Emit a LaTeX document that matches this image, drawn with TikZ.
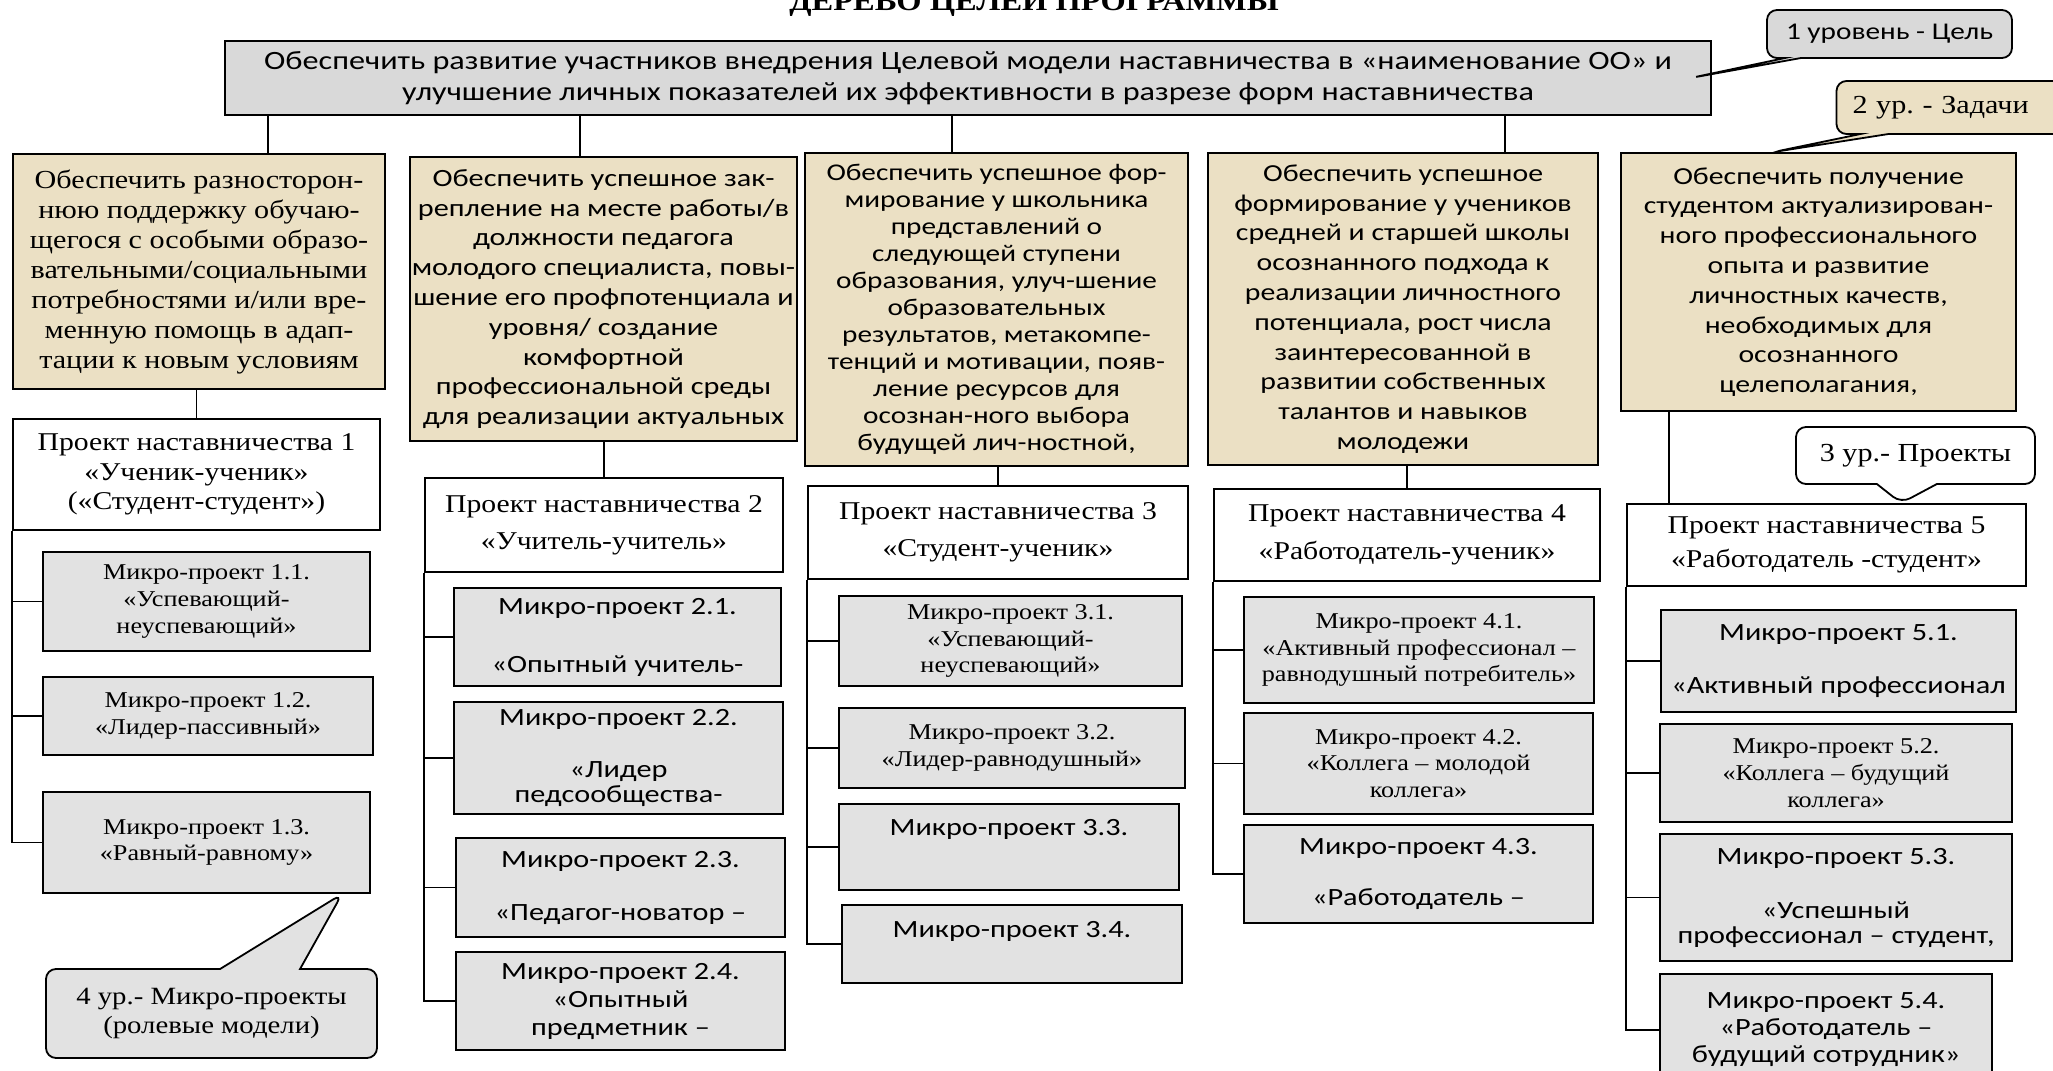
\documentclass[tikz,border=0pt]{standalone}
\usepackage{fontspec}
\setmainfont[FakeStretch=1.16]{Liberation Serif}
\newfontfamily\calfont[FakeStretch=1.22]{Carlito}
\usetikzlibrary{shapes.callouts}

\definecolor{parchment}{RGB}{235,224,196}
\definecolor{goalgray}{RGB}{217,217,217}
\definecolor{microgray}{RGB}{226,226,226}

\newcommand{\tnr}[2]{\fontsize{#1}{#2}\selectfont}
\newcommand{\cfs}[2]{\calfont\fontsize{#1}{#2}\selectfont}
\frenchspacing

\tikzset{
  box/.style={draw, line width=0.9pt, align=center, inner sep=1pt},
  task/.style={box, fill=parchment},
  project/.style={box, fill=white},
  micro/.style={box, fill=microgray},
  note/.style={rectangle callout, draw, line width=0.9pt, rounded corners=5pt,
    align=center, inner sep=1pt}
}

\begin{document}
\begin{tikzpicture}[x=1pt, y=-1pt]
    \useasboundingbox (0,0) rectangle (1026.5,535.5);

    % title (cut at the top edge)
    \node [anchor=base, font=\bfseries\tnr{14}{16}] (title) at (517,5) {ДЕРЕВО ЦЕЛЕЙ ПРОГРАММЫ};

    % level 1 - goal
    \node [box, fill=goalgray, line width=1.4pt, minimum width=743pt, minimum height=37pt,
        font=\cfs{13.2}{15.5}] (goal) at (484,39)
        {Обеспечить развитие участников внедрения Целевой модели наставничества в «наименование ОО» и\\
         улучшение личных показателей их эффективности в разрезе форм наставничества};

    % level 2 - tasks
    \node [task, minimum width=186pt, minimum height=117.5pt, font=\tnr{13}{15}] (T1) at (99.5,135.75)
        {Обеспечить разносторон-\\нюю поддержку обучаю-\\щегося с особыми образо-\\вательными/социальными\\
         потребностями и/или вре-\\менную помощь в адап-\\тации к новым условиям};
    \node [task, minimum width=190.5pt, minimum height=142pt, font=\cfs{12.4}{14.9}] (T2) at (301.75,149.5)
        {Обеспечить успешное зак-\\репление на месте работы/в\\должности педагога\\молодого специалиста, повы-\\
         шение его профпотенциала и\\уровня/ создание\\комфортной\\профессиональной среды\\для реализации актуальных};
    \node [task, minimum width=191.5pt, minimum height=156.5pt, font=\cfs{12}{13.5}] (T3) at (498.25,154.75)
        {Обеспечить успешное фор-\\мирование у школьника\\представлений о\\следующей ступени\\образования, улуч-шение\\
         образовательных\\результатов, метакомпе-\\тенций и мотивации, появ-\\ление ресурсов для\\
         осознан-ного выбора\\будущей лич-ностной,};
    \node [task, minimum width=195pt, minimum height=156pt, font=\cfs{12.2}{14.9}] (T4) at (701.5,154.5)
        {Обеспечить успешное\\формирование у учеников\\средней и старшей школы\\осознанного подхода к\\
         реализации личностного\\потенциала, рост числа\\заинтересованной в\\развитии собственных\\
         талантов и навыков\\молодежи};
    \node [task, minimum width=197.5pt, minimum height=129pt, font=\cfs{12.2}{14.9}] (T5) at (909.25,141)
        {Обеспечить получение\\студентом актуализирован-\\ного профессионального\\опыта и развитие\\
         личностных качеств,\\необходимых для\\осознанного\\целеполагания,};

    % level 3 - projects
    \node [project, minimum width=183.5pt, minimum height=55.5pt, font=\tnr{12.8}{14.7}] (P1) at (98.25,237.25)
        {Проект наставничества 1\\«Ученик-ученик»\\(«Студент-студент»)};
    \node [project, minimum width=179pt, minimum height=47pt, font=\tnr{12.8}{14.7}] (P2) at (302,262.5)
        {Проект наставничества 2\\[4pt]«Учитель-учитель»};
    \node [project, minimum width=190pt, minimum height=46.5pt, font=\tnr{12.8}{14.7}] (P3) at (499,266.25)
        {Проект наставничества 3\\[4pt]«Студент-ученик»};
    \node [project, minimum width=193pt, minimum height=46pt, font=\tnr{12.8}{14.7}] (P4) at (703.5,267.5)
        {Проект наставничества 4\\[4pt]«Работодатель-ученик»};
    \node [project, minimum width=199.5pt, minimum height=41pt, font=\tnr{12.8}{14.7}] (P5) at (913.25,272.5)
        {Проект наставничества 5\\[2pt]«Работодатель -студент»};

    % level 4 - micro-projects
    \node [micro, minimum width=163.5pt, minimum height=49.5pt, font=\tnr{11.3}{13.4}] (M11) at (103.25,300.75)
        {Микро-проект 1.1.\\«Успевающий-\\неуспевающий»};
    \node [micro, minimum width=165pt, minimum height=39pt, font=\tnr{11.3}{13.4}] (M12) at (104,358)
        {Микро-проект 1.2.\\«Лидер-пассивный»};
    \node [micro, minimum width=163.5pt, minimum height=50.5pt, font=\tnr{11.3}{13.4}] (M13) at (103.25,421.25)
        {Микро-проект 1.3.\\«Равный-равному»};

    \node [micro, minimum width=163.5pt, minimum height=49pt, font=\cfs{12.4}{12.5}] (M21) at (308.75,318.5)
        {Микро-проект 2.1.\\[16.5pt]«Опытный учитель-};
    \node [micro, minimum width=164.5pt, minimum height=56pt, font=\cfs{12.4}{12.5}] (M22) at (309.25,379)
        {Микро-проект 2.2.\\[13.5pt]«Лидер\\педсообщества-};
    \node [micro, minimum width=164.5pt, minimum height=49.5pt, font=\cfs{12.4}{12.5}] (M23) at (310.25,443.75)
        {Микро-проект 2.3.\\[14pt]«Педагог-новатор –};
    \node [micro, minimum width=164.5pt, minimum height=49pt, font=\cfs{12.4}{14}] (M24) at (310.25,500.5)
        {Микро-проект 2.4.\\«Опытный\\предметник –};

    \node [micro, minimum width=171.5pt, minimum height=45pt, font=\tnr{11.3}{13.4}] (M31) at (505.25,320.5)
        {Микро-проект 3.1.\\«Успевающий-\\неуспевающий»};
    \node [micro, minimum width=173pt, minimum height=40pt, font=\tnr{11.3}{13.4}] (M32) at (506,374)
        {Микро-проект 3.2.\\«Лидер-равнодушный»};
    \node [micro, minimum width=170pt, minimum height=43pt, text depth=20pt, font=\cfs{12.4}{12.5}] (M33) at (504.5,423.5)
        {Микро-проект 3.3.};
    \node [micro, minimum width=170pt, minimum height=39pt, text depth=15pt, font=\cfs{12.4}{12.5}] (M34) at (506,472)
        {Микро-проект 3.4.};

    \node [micro, minimum width=175pt, minimum height=53pt, font=\tnr{11.3}{13.4}] (M41) at (709.5,325)
        {Микро-проект 4.1.\\«Активный профессионал –\\равнодушный потребитель»};
    \node [micro, minimum width=174.5pt, minimum height=50.5pt, font=\tnr{11.3}{13.4}] (M42) at (709.25,381.75)
        {Микро-проект 4.2.\\«Коллега – молодой\\коллега»};
    \node [micro, minimum width=174.5pt, minimum height=49pt, font=\cfs{12.4}{12.5}] (M43) at (709.25,437)
        {Микро-проект 4.3.\\[13pt]«Работодатель –};

    \node [micro, minimum width=177.5pt, minimum height=51pt, font=\cfs{12.4}{12.5}] (M51) at (919.25,330.5)
        {Микро-проект 5.1.\\[14pt]«Активный профессионал};
    \node [micro, minimum width=176pt, minimum height=49pt, font=\tnr{11.3}{13.4}] (M52) at (918,386.5)
        {Микро-проект 5.2.\\«Коллега – будущий\\коллега»};
    \node [micro, minimum width=176pt, minimum height=63.5pt, font=\cfs{12.4}{12.5}] (M53) at (918,448.75)
        {Микро-проект 5.3.\\[14.5pt]«Успешный\\профессионал – студент,};
    \node [micro, minimum width=166pt, minimum height=56pt, font=\cfs{12.4}{13.5}] (M54) at (913,515)
        {Микро-проект 5.4.\\«Работодатель –\\будущий сотрудник»};

    % connections from the goal to the tasks
    \foreach \t/\x in {T1/134, T2/290, T3/476, T4/752.5}
        \draw [line width=0.9pt] (goal.south -| \x,0) -- (\t.north -| \x,0);

    % connections from the tasks to the projects
    \foreach \i in {1,...,4}
        \draw [line width=0.9pt] (T\i.south -| P\i.north) -- (P\i.north);
    \draw [line width=0.9pt] (T5.south -| 834.5,0) -- (P5.north -| 834.5,0);

    % connections from the projects to the micro-projects
    \foreach \p/\last/\others in {P1/M13/{M11,M12}, P2/M24/{M21,M22,M23},
                                  P3/M34/{M31,M32,M33}, P4/M43/{M41,M42}, P5/M54/{M51,M52,M53}} {
        \draw [line width=0.9pt] (\p.south west) |- (\last.west);
        \foreach \m in \others
            \draw [line width=0.9pt] (\p.south west |- \m.west) -- (\m.west);
    }

    % level labels
    \node [note, fill=goalgray, minimum width=122.5pt, minimum height=24pt, font=\cfs{12}{14},
        callout pointer width=8pt, callout absolute pointer={([xshift=-11pt]goal.east)}] (lvl1)
        at (944.75,17) {1 уровень - Цель};
    \node [note, fill=parchment, minimum height=26.5pt, text width=100pt, align=left, inner xsep=8pt,
        font=\tnr{13}{15}, callout pointer width=14pt,
        callout absolute pointer={([xshift=76.5pt]T5.north west)}] (lvl2)
        at (976.25,53.75) {2 ур. - Задачи};
    \node [note, fill=white, minimum width=119.5pt, minimum height=28.5pt, font=\tnr{13}{15},
        callout pointer width=30pt, callout absolute pointer={([xshift=137.5pt]P5.north west)}] (lvl3)
        at (957.75,227.75) {3 ур.- Проекты};
    \node [note, fill=microgray, minimum width=165.5pt, minimum height=44.5pt, font=\tnr{12.4}{14.5},
        callout pointer width=40pt, callout absolute pointer={([xshift=150pt]M13.south west)}] (lvl4)
        at (105.75,506.75) {4 ур.- Микро-проекты\\(ролевые модели)};
\end{tikzpicture}
\end{document}
